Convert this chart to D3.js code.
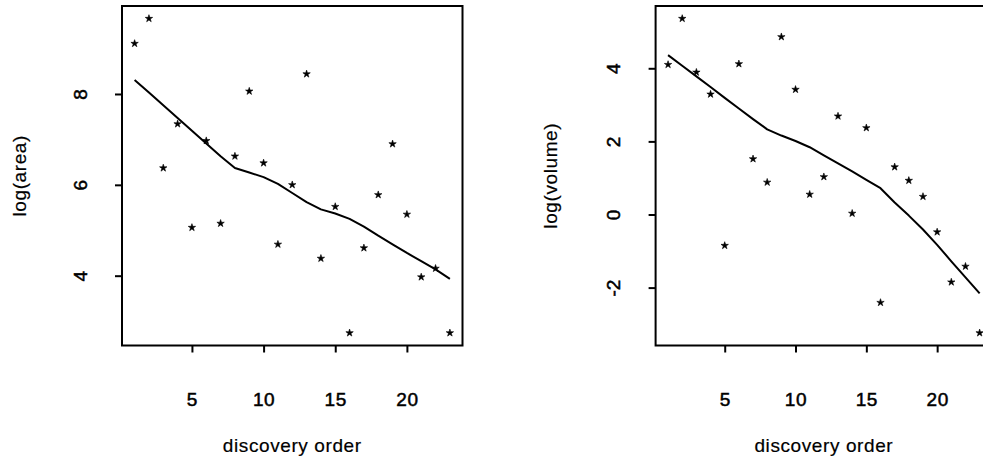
<!DOCTYPE html>
<html>
<head>
<meta charset="utf-8">
<script src="https://cdn.jsdelivr.net/npm/d3@7"></script>
<style>
  body { margin: 0; background: #fff; }
  svg { display: block; }
  text { font-family: "Liberation Sans", Arial, Helvetica, sans-serif; fill: #000; }
</style>
</head>
<body>
<script>
// discovery order of the fields
var order = [1, 2, 3, 4, 5, 6, 7, 8, 9, 10, 11, 12, 13, 14, 15, 16, 17, 18, 19, 20, 21, 22, 23];

// left panel: log(area) and its smooth
var logArea = [9.11, 9.66, 6.37, 7.34, 5.06, 6.97, 5.15, 6.63, 8.06, 6.48, 4.69, 6.00,
               8.44, 4.38, 5.52, 2.74, 4.61, 5.78, 6.90, 5.35, 3.97, 4.16, 2.74];
var areaSmooth = [8.31, 8.03, 7.75, 7.47, 7.19, 6.91, 6.63, 6.37, 6.27, 6.17, 6.02, 5.82,
                  5.62, 5.46, 5.37, 5.25, 5.08, 4.88, 4.69, 4.50, 4.32, 4.14, 3.93];

// right panel: log(volume) and its smooth
var logVolume = [4.10, 5.36, 3.89, 3.29, -0.85, 4.12, 1.52, 0.88, 4.86, 3.42, 0.55, 1.03,
                 2.69, 0.03, 2.37, -2.41, 1.30, 0.93, 0.49, -0.48, -1.85, -1.42, -3.24];
var volumeSmooth = [4.36, 4.07, 3.78, 3.49, 3.19, 2.90, 2.61, 2.33, 2.16, 2.01, 1.84, 1.62,
                    1.40, 1.18, 0.95, 0.72, 0.33, -0.03, -0.41, -0.83, -1.28, -1.72, -2.16];

var xTicks = [5, 10, 15, 20];
var areaTicks = [4, 6, 8];
var volumeTicks = [-2, 0, 2, 4];
var xTitle = "discovery order";

var svg = d3.select("body").append("svg")
  .attr("width", 983)
  .attr("height", 468);

// R style axis range: data range plus 4% on each side
function padded(vals) {
  var ext = d3.extent(vals);
  var d = (ext[1] - ext[0]) * 0.04;
  return [ext[0] - d, ext[1] + d];
}

function drawPanel(p) {
  var x = d3.scaleLinear().domain(padded(order)).range([0, p.w]);
  var y = d3.scaleLinear().domain(padded(p.values)).range([p.h, 0]);

  var g = svg.append("g")
    .attr("transform", "translate(" + p.left + "," + p.top + ")");

  var xAxis = d3.axisBottom(x).tickValues(xTicks).tickFormat(String)
    .tickSize(7).tickSizeOuter(0).tickPadding(40.5);
  var yAxis = d3.axisLeft(y).tickValues(p.ticks).tickFormat(String)
    .tickSize(7).tickSizeOuter(0);

  var gx = g.append("g")
    .attr("transform", "translate(0," + p.h + ")")
    .call(xAxis);
  gx.select(".domain").remove();
  gx.selectAll("line").attr("stroke", "#000").attr("stroke-width", 2);
  gx.selectAll("text")
    .style("font-size", "19px")
    .style("letter-spacing", "0.6px")
    .style("stroke", "#000")
    .style("stroke-width", "0.5px");

  var gy = g.append("g").call(yAxis);
  gy.select(".domain").remove();
  gy.selectAll("line").attr("stroke", "#000").attr("stroke-width", 2);
  gy.selectAll("text")
    .attr("transform", "rotate(-90)")
    .attr("x", 0)
    .attr("y", p.labelOffset)
    .attr("dy", 0)
    .style("text-anchor", "middle")
    .style("font-size", "19px")
    .style("stroke", "#000")
    .style("stroke-width", "0.5px");

  // smooth line
  var line = d3.line()
    .x(function (d, i) { return x(order[i]); })
    .y(function (d) { return y(d); });
  g.append("path")
    .datum(p.smooth)
    .attr("d", line)
    .attr("fill", "none")
    .attr("stroke", "#000")
    .attr("stroke-width", 2)
    .attr("stroke-linejoin", "round");

  // star points
  var star = d3.symbol().type(d3.symbolStar).size(17);
  g.selectAll(".pt")
    .data(p.values)
    .enter()
    .append("path")
    .attr("class", "pt")
    .attr("d", star)
    .attr("transform", function (d, i) {
      return "translate(" + x(order[i]) + "," + y(d) + ")";
    })
    .attr("fill", "#000")
    .attr("stroke", "#000")
    .attr("stroke-width", 0.6);

  // plot box
  g.append("rect")
    .attr("width", p.w)
    .attr("height", p.h)
    .attr("fill", "none")
    .attr("stroke", "#000")
    .attr("stroke-width", 2);

  // titles
  g.append("text")
    .attr("x", p.w / 2)
    .attr("y", p.h + 106)
    .style("text-anchor", "middle")
    .style("font-size", "19px")
    .style("letter-spacing", "0.6px")
    .style("stroke", "#000")
    .style("stroke-width", "0.2px")
    .text(xTitle);

  g.append("text")
    .attr("transform", "translate(" + p.titleX + "," + (p.h / 2) + ") rotate(-90)")
    .style("text-anchor", "middle")
    .style("font-size", "19px")
    .style("letter-spacing", "0.6px")
    .style("stroke", "#000")
    .style("stroke-width", "0.2px")
    .text(p.ylabel);
}

drawPanel({
  left: 122, top: 6, w: 340.5, h: 339.5,
  values: logArea, smooth: areaSmooth, ticks: areaTicks,
  ylabel: "log(area)", labelOffset: -35.2, titleX: -96.4
});

drawPanel({
  left: 655.6, top: 6, w: 336.5, h: 339.5,
  values: logVolume, smooth: volumeSmooth, ticks: volumeTicks,
  ylabel: "log(volume)", labelOffset: -35.8, titleX: -99.1
});
</script>
</body>
</html>
